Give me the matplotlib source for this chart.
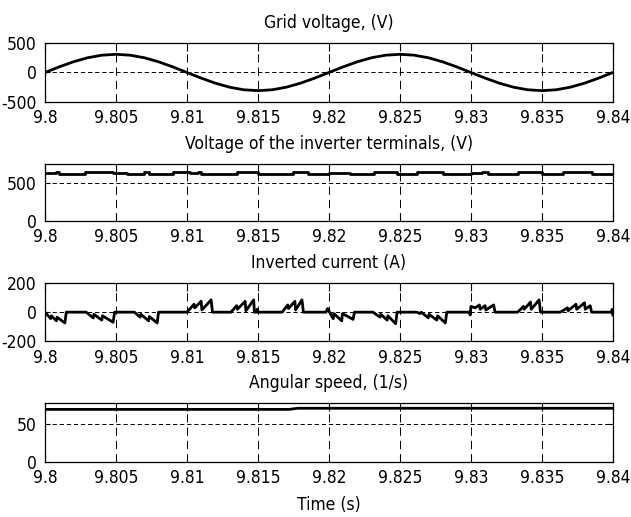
import matplotlib
matplotlib.use('Agg')
import numpy as np
import matplotlib.pyplot as plt
from matplotlib import font_manager

# the source picture is stretched vertically, so the text looks narrow:
# use a condensed / narrow face if one is installed
narrow = [f for f in font_manager.fontManager.ttflist
          if f.style == 'normal' and f.weight in (400, 'normal', 'regular')
          and ('condensed' in str(f.stretch) or 'Narrow' in f.name or 'Condensed' in f.name)]
narrow.sort(key=lambda f: ('Sans' not in f.name, 'extra' in str(f.stretch), f.name))
if narrow:
    font_file = narrow[0].fname
    font_size = 12.5
else:
    font_file = font_manager.findfont('Liberation Sans')
    font_size = 11.5
plt.rcParams['lines.scale_dashes'] = False

def fprop():
    return font_manager.FontProperties(fname=font_file, size=font_size)

# ---- data ----
x_ticks = [9.8, 9.805, 9.81, 9.815, 9.82, 9.825, 9.83, 9.835, 9.84]
x_tick_labels = ['9.8', '9.805', '9.81', '9.815', '9.82', '9.825', '9.83', '9.835', '9.84']

# grid voltage, sampled every 1 ms
grid_t = np.linspace(9.8, 9.84, 41)
grid_v = [0, 96, 183, 252, 296, 311, 296, 252, 183, 96,
          0, -96, -183, -252, -296, -311, -296, -252, -183, -96,
          0, 96, 183, 252, 296, 311, 296, 252, 183, 96,
          0, -96, -183, -252, -296, -311, -296, -252, -183, -96, 0]

# inverter terminal voltage (stepped)
inv_t = [9.8000, 9.8008, 9.8010, 9.8028, 9.8048, 9.8058, 9.8070, 9.8073, 9.8090, 9.8102,
         9.8108, 9.8110, 9.8135, 9.8150, 9.8175, 9.8185, 9.8200, 9.8215, 9.8232, 9.8248,
         9.8262, 9.8280, 9.8300, 9.8308, 9.8312, 9.8333, 9.8350, 9.8365, 9.8385, 9.8400]
inv_v = [635, 650, 612, 642, 630, 612, 640, 612, 642, 625,
         650, 612, 642, 612, 642, 612, 635, 612, 642, 612,
         640, 612, 635, 650, 612, 642, 612, 642, 612, 612]

# inverted current
cur_t = [9.8000, 9.8004, 9.80045, 9.8008, 9.80085, 9.8014, 9.8015,
         9.8029, 9.8034, 9.80345, 9.8040, 9.80405, 9.8048, 9.8049,
         9.8063, 9.8067, 9.80675, 9.8073, 9.80735, 9.8079, 9.8080,
         9.8100, 9.8105, 9.81055, 9.8110, 9.81105, 9.8117, 9.8118,
         9.8131, 9.8135, 9.81355, 9.8141, 9.81415, 9.8147, 9.81475, 9.8149, 9.81495, 9.8150,
         9.8167, 9.8171, 9.81715, 9.8176, 9.81765, 9.8181, 9.8182,
         9.8198, 9.8199, 9.8203, 9.82035, 9.8209, 9.82095, 9.8217, 9.8218,
         9.8231, 9.8236, 9.82365, 9.8241, 9.82415, 9.8247, 9.8248,
         9.8262, 9.8264, 9.8265, 9.8270, 9.82705, 9.8276, 9.82765, 9.8282, 9.8283,
         9.8299, 9.82995, 9.8300, 9.8303, 9.8306, 9.83065, 9.8310, 9.83105, 9.8316, 9.8317,
         9.8333, 9.8337, 9.83375, 9.8342, 9.83425, 9.8348, 9.8349,
         9.8363, 9.8368, 9.83685, 9.8374, 9.83745, 9.8380, 9.83805, 9.8384, 9.8385,
         9.8399, 9.83995, 9.8400]
cur_i = [0, -45, -25, -60, -35, -75, 0,
         0, -40, -15, -55, -25, -70, 0,
         0, -35, -15, -60, -30, -75, 0,
         0, 55, 30, 76, 15, 85, 0,
         0, 45, 20, 75, 10, 85, 0, 0, 20, 0,
         0, 50, 25, 75, 15, 85, 0,
         0, 25, -45, -10, -60, -10, -50, 0,
         0, -35, -15, -55, -25, -80, 0,
         0, -10, 0, -40, -15, -55, -25, -75, 0,
         0, -20, 40, 30, 50, 20, 45, 15, 50, 0,
         0, 40, 20, 70, 20, 85, 0,
         0, 30, 10, 55, 20, 65, 20, 45, 0,
         0, 20, -20]

# angular speed
spd_t = [9.8, 9.8172, 9.8178, 9.84]
spd_w = [69.5, 69.5, 71, 71]

panels = [
    dict(title='Grid voltage, (V)', ylim=(-500, 500), yticks=[-500, 0, 500],
         ylabels=['-500', '0', '500'], rect=[0.0713, 0.8033, 0.900, 0.1130]),
    dict(title='Voltage of the inverter terminals, (V)', ylim=(0, 750), yticks=[0, 500],
         ylabels=['0', '500'], rect=[0.0713, 0.5731, 0.900, 0.1097]),
    dict(title='Inverted current (A)', ylim=(-200, 200), yticks=[-200, 0, 200],
         ylabels=['-200', '0', '200'], rect=[0.0713, 0.3404, 0.900, 0.1116]),
    dict(title='Angular speed, (1/s)', ylim=(0, 78), yticks=[0, 50],
         ylabels=['0', '50'], rect=[0.0713, 0.1070, 0.900, 0.1135]),
]

fig = plt.figure(figsize=(6.31, 5.17), dpi=100)
axes = []
for p in panels:
    ax = fig.add_axes(p['rect'])
    ax.set_xlim(9.8, 9.84)
    ax.set_ylim(*p['ylim'])
    ax.set_xticks(x_ticks)
    ax.set_xticklabels(x_tick_labels, fontproperties=fprop())
    ax.set_yticks(p['yticks'])
    ax.set_yticklabels(p['ylabels'], fontproperties=fprop())
    ax.tick_params(axis='both', direction='in', top=True, right=True,
                   colors='black', width=0.8)
    ax.tick_params(axis='x', length=6, pad=5.5)
    ax.tick_params(axis='y', length=3.5, pad=5.8)
    ax.grid(axis='x', color='black', linewidth=0.7, linestyle=(0, (6, 3.6)))
    ax.grid(axis='y', color='black', linewidth=0.7, linestyle=(0, (3.1, 2)))
    for s in ax.spines.values():
        s.set_linewidth(0.9)
        s.set_color('black')
    ax.set_title(p['title'], fontproperties=fprop(), pad=11)
    axes.append(ax)

axes[0].plot(grid_t, grid_v, color='black', linewidth=2.0)
axes[1].plot(inv_t, inv_v, color='black', linewidth=2.0, drawstyle='steps-post')
axes[2].plot(cur_t, cur_i, color='black', linewidth=2.0)
axes[3].plot(spd_t, spd_w, color='black', linewidth=2.0)

axes[3].set_xlabel('Time (s)', fontproperties=fprop(), labelpad=6)

fig.savefig('out.png', dpi=100, facecolor='white')
